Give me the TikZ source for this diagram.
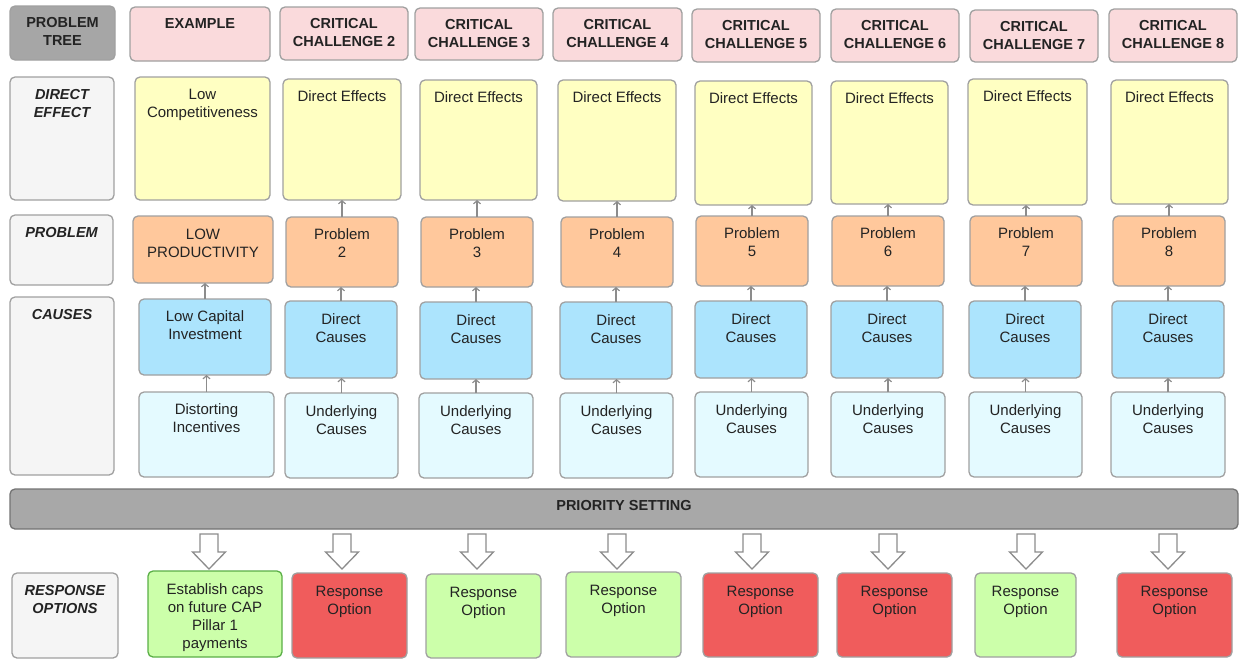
\documentclass[tikz,border=0pt]{standalone}
\usepackage{fontspec}
\setmainfont{Liberation Sans}
\usetikzlibrary{arrows.meta}
\definecolor{bordergray}{RGB}{160,160,160}
\definecolor{txt}{RGB}{35,35,35}
\definecolor{hdrpink}{RGB}{250,218,220}
\definecolor{treegray}{RGB}{166,166,166}
\definecolor{labgray}{RGB}{245,245,245}
\definecolor{effyellow}{RGB}{255,255,194}
\definecolor{prborange}{RGB}{255,200,156}
\definecolor{dcblue}{RGB}{172,228,253}
\definecolor{uccyan}{RGB}{228,250,255}
\definecolor{rogreen}{RGB}{204,255,170}
\definecolor{rogreenborder}{RGB}{90,175,70}
\definecolor{rored}{RGB}{240,92,92}
\definecolor{bargray}{RGB}{168,168,168}
\definecolor{barborder}{RGB}{115,115,115}
\definecolor{linkgray}{RGB}{140,140,140}
\definecolor{blkgray}{RGB}{140,140,140}
\newcommand\mycell[8]{%
  \node[#2,anchor=north west,inner sep=0pt,outer sep=0pt] (#1) at (#3,#4)
  {\parbox[t][\dimexpr #6pt-#4pt\relax][t]{\dimexpr #5pt-#3pt\relax}{\centering\vspace*{#7pt}#8\par}};}
\tikzset{
  box/.style={draw=bordergray,line width=1.3pt,rounded corners=5pt,text=txt,
    font=\fontsize{15}{18}\selectfont},
  hdr/.style={box,fill=hdrpink,font=\fontsize{14.5}{18}\selectfont\bfseries},
  tree/.style={box,fill=treegray,font=\fontsize{14.5}{18}\selectfont\bfseries},
  lab/.style={box,fill=labgray,font=\fontsize{14.5}{18}\selectfont\bfseries\itshape},
  eff/.style={box,fill=effyellow},
  prb/.style={box,fill=prborange},
  dc/.style={box,fill=dcblue},
  uc/.style={box,fill=uccyan},
  rog/.style={box,fill=rogreen},
  rogx/.style={box,fill=rogreen,draw=rogreenborder},
  ror/.style={box,fill=rored},
  bar/.style={box,fill=bargray,draw=barborder,font=\fontsize{14.5}{18}\selectfont\bfseries},
  link/.style={draw=linkgray,line width=1.2pt,-{Straight Barb[length=3pt,width=7pt]}},
  blk/.style={draw=blkgray,fill=white,line width=1.3pt,line join=miter}
}
\begin{document}
\begin{tikzpicture}[x=1pt,y=-1pt]
\useasboundingbox (0,0) rectangle (1239,659);
% header row
\mycell{hdr0}{tree}{10}{6}{115}{60}{11.5}{PROBLEM\\TREE}
\mycell{hdr1}{hdr}{130}{7}{270}{61}{12}{EXAMPLE}
\mycell{hdr2}{hdr}{280}{7}{408}{60}{11.5}{CRITICAL\\CHALLENGE 2}
\mycell{hdr3}{hdr}{415}{8}{543}{60}{11.5}{CRITICAL\\CHALLENGE 3}
\mycell{hdr4}{hdr}{553}{8}{682}{61}{11.5}{CRITICAL\\CHALLENGE 4}
\mycell{hdr5}{hdr}{692}{9}{820}{62}{11.5}{CRITICAL\\CHALLENGE 5}
\mycell{hdr6}{hdr}{831}{9}{959}{62}{11.5}{CRITICAL\\CHALLENGE 6}
\mycell{hdr7}{hdr}{970}{10}{1098}{62}{11.5}{CRITICAL\\CHALLENGE 7}
\mycell{hdr8}{hdr}{1109}{9}{1237}{62}{11.5}{CRITICAL\\CHALLENGE 8}
% row labels
\mycell{lab1}{lab}{10}{77}{114}{200}{12}{DIRECT\\EFFECT}
\mycell{lab2}{lab}{10}{215}{113}{285}{12}{PROBLEM}
\mycell{lab3}{lab}{10}{297}{114}{475}{12}{CAUSES}
\mycell{lab4}{lab}{12}{573}{118}{658}{12}{RESPONSE\\OPTIONS}
% example column
\mycell{eff1}{eff}{135}{77}{270}{200}{12}{Low\\Competitiveness}
\mycell{prb1}{prb}{133}{216}{273}{283}{13}{LOW\\PRODUCTIVITY}
\mycell{dc1}{dc}{139}{299}{271}{375}{12}{Low Capital\\Investment}
\mycell{uc1}{uc}{139}{392}{274}{477}{12}{Distorting\\Incentives}
\mycell{ro1}{rogx}{148}{571}{282}{657}{12.5}{Establish caps\\on future CAP\\Pillar 1\\payments}
% challenge 2
\mycell{eff2}{eff}{283}{79}{401}{200}{12}{Direct Effects}
\mycell{prb2}{prb}{286}{217}{398}{287}{12}{Problem\\2}
\mycell{dc2}{dc}{285}{301}{397}{378}{13}{Direct\\Causes}
\mycell{uc2}{uc}{285}{393}{398}{478}{13}{Underlying\\Causes}
\mycell{ro2}{ror}{292}{573}{407}{658}{13}{Response\\Option}
% challenge 3
\mycell{eff3}{eff}{420}{80}{537}{200}{12}{Direct Effects}
\mycell{prb3}{prb}{421}{217}{533}{287}{12}{Problem\\3}
\mycell{dc3}{dc}{420}{302}{532}{379}{13}{Direct\\Causes}
\mycell{uc3}{uc}{419}{393}{533}{478}{13}{Underlying\\Causes}
\mycell{ro3}{rog}{426}{574}{541}{658}{13}{Response\\Option}
% challenge 4
\mycell{eff4}{eff}{558}{80}{676}{201}{12}{Direct Effects}
\mycell{prb4}{prb}{561}{217}{673}{287}{12}{Problem\\4}
\mycell{dc4}{dc}{560}{302}{672}{379}{13}{Direct\\Causes}
\mycell{uc4}{uc}{560}{393}{673}{478}{13}{Underlying\\Causes}
\mycell{ro4}{rog}{566}{572}{681}{657}{13}{Response\\Option}
% challenge 5
\mycell{eff5}{eff}{695}{81}{812}{205}{12}{Direct Effects}
\mycell{prb5}{prb}{696}{216}{808}{286}{12}{Problem\\5}
\mycell{dc5}{dc}{695}{301}{807}{378}{13}{Direct\\Causes}
\mycell{uc5}{uc}{695}{392}{808}{477}{13}{Underlying\\Causes}
\mycell{ro5}{ror}{703}{573}{818}{657}{13}{Response\\Option}
% challenge 6
\mycell{eff6}{eff}{831}{81}{948}{204}{12}{Direct Effects}
\mycell{prb6}{prb}{832}{216}{944}{286}{12}{Problem\\6}
\mycell{dc6}{dc}{831}{301}{943}{378}{13}{Direct\\Causes}
\mycell{uc6}{uc}{831}{392}{945}{477}{13}{Underlying\\Causes}
\mycell{ro6}{ror}{837}{573}{952}{657}{13}{Response\\Option}
% challenge 7
\mycell{eff7}{eff}{968}{79}{1087}{205}{12}{Direct Effects}
\mycell{prb7}{prb}{970}{216}{1082}{286}{12}{Problem\\7}
\mycell{dc7}{dc}{969}{301}{1081}{378}{13}{Direct\\Causes}
\mycell{uc7}{uc}{969}{392}{1082}{477}{13}{Underlying\\Causes}
\mycell{ro7}{rog}{975}{573}{1076}{657}{13}{Response\\Option}
% challenge 8
\mycell{eff8}{eff}{1111}{80}{1228}{204}{12}{Direct Effects}
\mycell{prb8}{prb}{1113}{216}{1225}{286}{12}{Problem\\8}
\mycell{dc8}{dc}{1112}{301}{1224}{378}{13}{Direct\\Causes}
\mycell{uc8}{uc}{1111}{392}{1225}{477}{13}{Underlying\\Causes}
\mycell{ro8}{ror}{1117}{573}{1232}{657}{13}{Response\\Option}
% priority bar
\mycell{bar}{bar}{10}{489}{1238}{529}{11.5}{PRIORITY SETTING}
% connectors
\draw[link] (uc1.north) -- (uc1.north |- dc1.south);
\draw[link] (dc1.north) -- (dc1.north |- prb1.south);
\foreach \i in {2,...,8}{
  \draw[link] (uc\i.north) -- (uc\i.north |- dc\i.south);
  \draw[link] (dc\i.north) -- (dc\i.north |- prb\i.south);
  \draw[link] (prb\i.north) -- (prb\i.north |- eff\i.south);
}
% block arrows from priority bar
\foreach \n/\x in {1/209,2/342,3/477,4/617,5/752,6/888,7/1026,8/1168}{
  \coordinate (a\n) at (\x,534);
  \draw[blk] (a\n) ++(-9,0) -- ++(18,0) -- ++(0,18) -- ++(7.5,0) -- ++(-16.5,17)
     -- ++(-16.5,-17) -- ++(7.5,0) -- cycle;
}
\end{tikzpicture}
\end{document}
